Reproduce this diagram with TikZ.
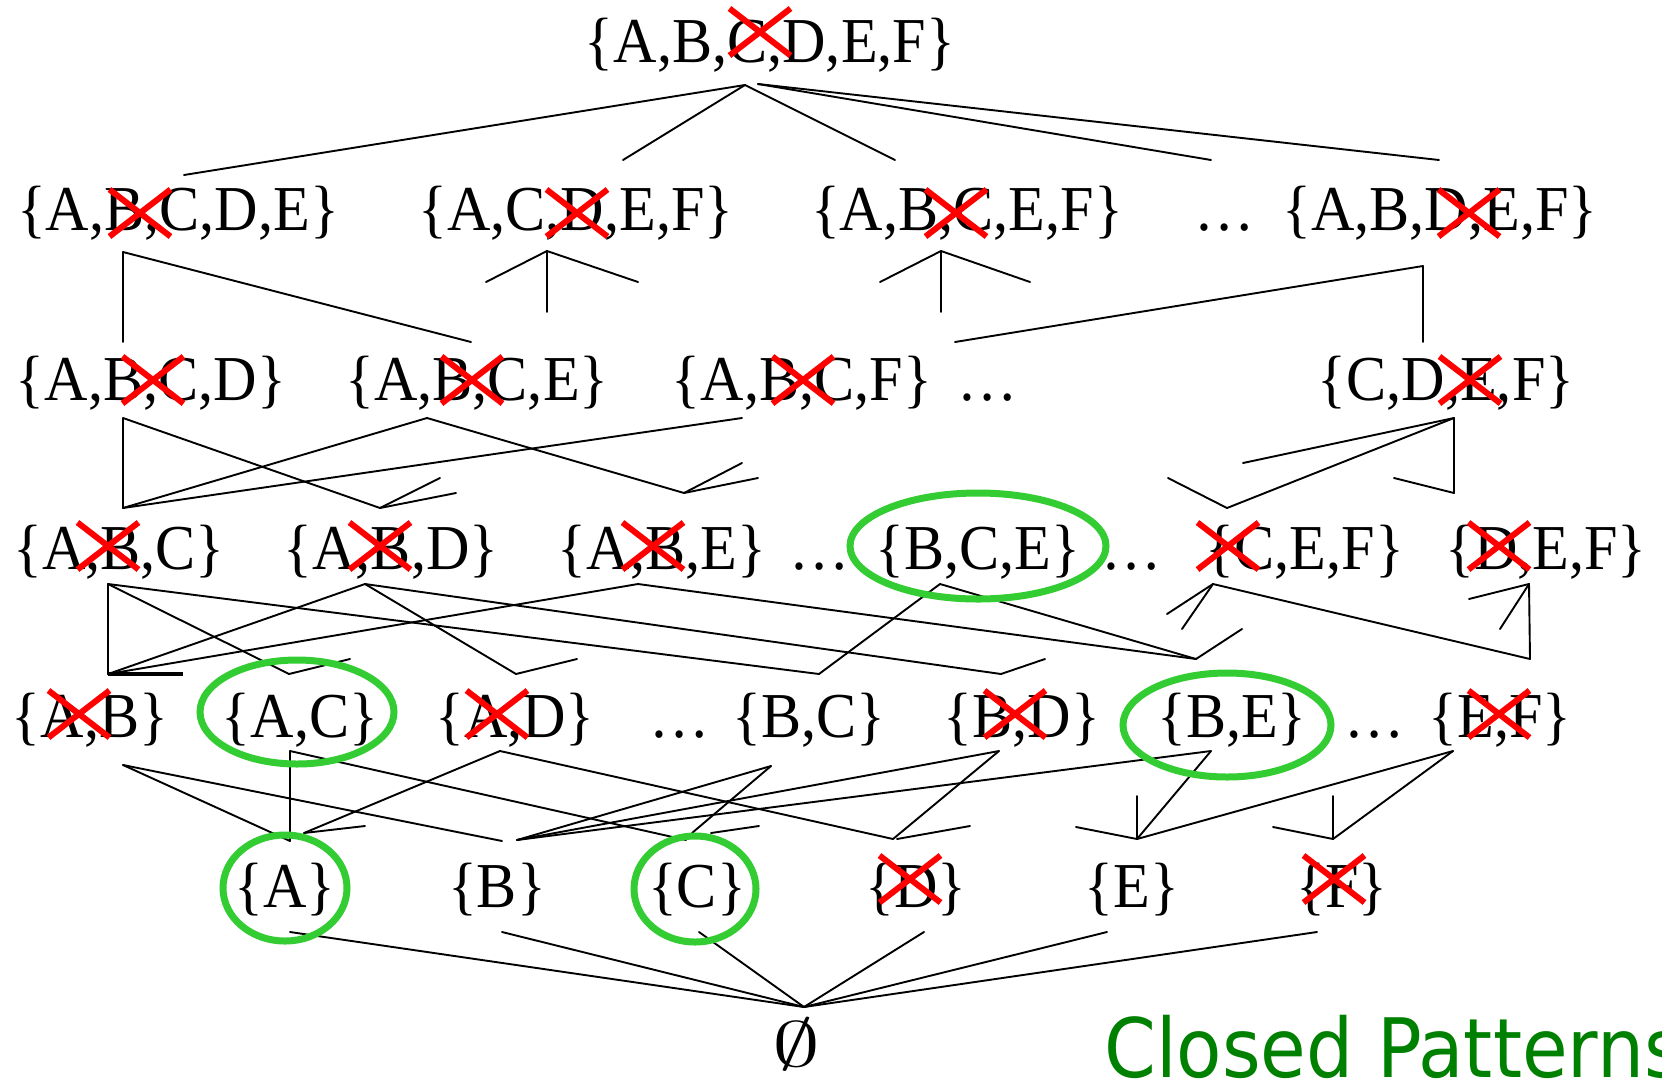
\documentclass[tikz,border=0pt]{standalone}
\usepackage{fix-cm}
\usepackage{fontspec}
\setmainfont[FakeStretch=0.94]{Liberation Serif}
\newfontfamily\cpfont[FakeStretch=0.905]{DejaVu Sans}
\usetikzlibrary{shapes.misc}
\definecolor{xred}{RGB}{255,0,0}
\definecolor{ringgreen}{RGB}{51,204,51}
\definecolor{titlegreen}{RGB}{0,128,0}
\begin{document}
\begin{tikzpicture}[x=1pt,y=-1pt,
  set/.style={font=\fontsize{64}{70}\selectfont, anchor=base, inner sep=0pt},
  edge/.style={line width=1.9pt, line cap=round},
  xo/.style={cross out, draw=xred, line width=6pt, minimum width=61pt, minimum height=47pt, inner sep=0pt, outer sep=0pt},
  ring/.style={draw=ringgreen, line width=7pt}]
\useasboundingbox (0,0) rectangle (1662,1080);
\fill[white] (0,0) rectangle (1662,1080);

% ---------- set nodes ----------
\node[set] (ABCDEF) at (770,62) {\{A,B,C,D,E,F\}};

\node[set] (ABCDE) at (178,230) {\{A,B,C,D,E\}};
\node[set] (ACDEF) at (576,230) {\{A,C,D,E,F\}};
\node[set] (ABCEF) at (967,230) {\{A,B,C,E,F\}};
\node[set] (dots2) at (1225,230) {…};
\node[set] (ABDEF) at (1440,230) {\{A,B,D,E,F\}};

\node[set] (ABCD) at (151,400) {\{A,B,C,D\}};
\node[set] (ABCE) at (477,400) {\{A,B,C,E\}};
\node[set] (ABCF) at (802,400) {\{A,B,C,F\}};
\node[set] (dots3) at (988,400) {…};
\node[set] (CDEF) at (1446,400) {\{C,D,E,F\}};

\node[set] (ABC) at (119,569) {\{A,B,C\}};
\node[set] (ABD) at (391,569) {\{A,B,D\}};
\node[set] (ABE) at (662,569) {\{A,B,E\}};
\node[set] (dots4a) at (820,569) {…};
\node[set] (BCE) at (978,569) {\{B,C,E\}};
\node[set] (dots4b) at (1132,569) {…};
\node[set] (CEF) at (1305,569) {\{C,E,F\}};
\node[set] (DEF) at (1546,569) {\{D,E,F\}};

\node[set] (AB) at (90,737) {\{A,B\}};
\node[set] (AC) at (300,737) {\{A,C\}};
\node[set] (AD) at (515,737) {\{A,D\}};
\node[set] (dots5a) at (680,737) {…};
\node[set] (BC) at (809,737) {\{B,C\}};
\node[set] (BD) at (1022,737) {\{B,D\}};
\node[set] (BE) at (1232,737) {\{B,E\}};
\node[set] (dots5b) at (1375,737) {…};
\node[set] (EF) at (1500,737) {\{E,F\}};

\node[set] (A) at (285,907) {\{A\}};
\node[set] (B) at (497,907) {\{B\}};
\node[set] (C) at (697,907) {\{C\}};
\node[set] (D) at (916,907) {\{D\}};
\node[set] (E) at (1132,907) {\{E\}};
\node[set] (F) at (1342,907) {\{F\}};

\node[set, xscale=1.5] (empty) at (796,1066) {$\emptyset$};

\node[anchor=base west, inner sep=0pt, text=titlegreen, font=\cpfont\fontsize{82}{90}\selectfont] (title) at (1104,1077) {Closed Patterns};

% ---------- attachment points ----------
\coordinate (t1) at (745,85);
\coordinate (t2) at (758,84);
\coordinate (ABCDE-t) at (184,175);
\coordinate (ACDEF-t) at (623,160);
\coordinate (ABCEF-t) at (895,160);
\coordinate (dots2-t) at (1211,160);
\coordinate (ABDEF-t) at (1439,160);

\coordinate (ABCDE-b) at (123,252);
\coordinate (ACDEF-b) at (547,251);
\coordinate (ABCEF-b) at (941,251);
\coordinate (ABDEF-b) at (1423,266);
\coordinate (ABDEF-c) at (1423,342);
\coordinate (ACDEF-s1) at (486,282);
\coordinate (ACDEF-s2) at (638,282);
\coordinate (ACDEF-s3) at (547,312);
\coordinate (ABCEF-s1) at (880,282);
\coordinate (ABCEF-s2) at (1030,282);
\coordinate (ABCEF-s3) at (941,312);

\coordinate (ABCD-t) at (123,342);
\coordinate (ABCE-t) at (471,342);
\coordinate (ABCF-t) at (955,342);

\coordinate (ABCD-b) at (123,418);
\coordinate (ABCE-b) at (427,418);
\coordinate (ABCF-b) at (742,418);
\coordinate (CDEF-b) at (1454,418);

\coordinate (ABC-t) at (123,508);
\coordinate (ABD-t) at (380,508);
\coordinate (ABE-t) at (684,493);
\coordinate (CEF-t) at (1227,508);
\coordinate (DEF-t) at (1454,493);
\coordinate (ABD-s1) at (440,478);
\coordinate (ABD-s2) at (456,493);
\coordinate (ABE-s1) at (742,463);
\coordinate (ABE-s2) at (758,478);
\coordinate (CDEF-s) at (1243,463);
\coordinate (CEF-s) at (1168,478);
\coordinate (DEF-s) at (1394,478);

\coordinate (ABC-b) at (108,584);
\coordinate (ABD-b) at (365,584);
\coordinate (ABE-b) at (638,584);
\coordinate (BCE-b) at (940,584);
\coordinate (CEF-b) at (1213,584);
\coordinate (DEF-b) at (1529,584);

\coordinate (AB-t) at (108,674);
\coordinate (AB-h) at (183,674);
\coordinate (AC-t) at (289,674);
\coordinate (AD-t) at (516,674);
\coordinate (BC-t) at (819,674);
\coordinate (BD-t) at (1001,674);
\coordinate (BE-t) at (1196,659);
\coordinate (EF-t) at (1530,659);
\coordinate (AC-s) at (350,659);
\coordinate (AD-s) at (577,659);
\coordinate (BD-s) at (1045,659);
\coordinate (BE-s) at (1242,629);
\coordinate (CEF-s1) at (1167,614);
\coordinate (CEF-s2) at (1182,629);
\coordinate (DEF-s1) at (1469,599);
\coordinate (DEF-s2) at (1500,629);

\coordinate (AB-b) at (123,765);
\coordinate (AC-b) at (290,751);
\coordinate (AD-b) at (500,751);
\coordinate (BC-b) at (771,766);
\coordinate (BD-b) at (999,751);
\coordinate (BE-b) at (1211,751);
\coordinate (EF-b) at (1453,751);

\coordinate (A-t) at (290,841);
\coordinate (A-t2) at (304,833);
\coordinate (A-s) at (365,826);
\coordinate (B-t) at (502,841);
\coordinate (B-t2) at (517,840);
\coordinate (C-t) at (686,840);
\coordinate (C-t2) at (692,833);
\coordinate (C-s1) at (711,833);
\coordinate (C-s2) at (759,826);
\coordinate (D-t) at (893,839);
\coordinate (D-s1) at (897,839);
\coordinate (D-s2) at (970,826);
\coordinate (E-t) at (1137,839);
\coordinate (E-s1) at (1137,796);
\coordinate (E-s2) at (1076,827);
\coordinate (F-t) at (1333,839);
\coordinate (F-s1) at (1333,796);
\coordinate (F-s2) at (1273,827);

\coordinate (A-b) at (290,932);
\coordinate (B-b) at (502,932);
\coordinate (C-b) at (699,932);
\coordinate (D-b) at (924,932);
\coordinate (E-b) at (1107,932);
\coordinate (F-b) at (1317,932);
\coordinate (empty-t) at (804,1007);

% ---------- connectors ----------
\draw[edge] (t1) -- (ABCDE-t);
\draw[edge] (t1) -- (ACDEF-t);
\draw[edge] (t1) -- (ABCEF-t);
\draw[edge] (t2) -- (dots2-t);
\draw[edge] (t2) -- (ABDEF-t);

\draw[edge] (ABCDE-b) -- (ABCD-t);
\draw[edge] (ABCDE-b) -- (ABCE-t);
\draw[edge] (ACDEF-b) -- (ACDEF-s1);
\draw[edge] (ACDEF-b) -- (ACDEF-s2);
\draw[edge] (ACDEF-b) -- (ACDEF-s3);
\draw[edge] (ABCEF-b) -- (ABCEF-s1);
\draw[edge] (ABCEF-b) -- (ABCEF-s2);
\draw[edge] (ABCEF-b) -- (ABCEF-s3);
\draw[edge] (ABDEF-b) -- (ABDEF-c);
\draw[edge] (ABDEF-b) -- (ABCF-t);

\draw[edge] (ABCD-b) -- (ABC-t);
\draw[edge] (ABCD-b) -- (ABD-t);
\draw[edge] (ABCE-b) -- (ABC-t);
\draw[edge] (ABCE-b) -- (ABE-t);
\draw[edge] (ABCF-b) -- (ABC-t);
\draw[edge] (ABD-t) -- (ABD-s1);
\draw[edge] (ABD-t) -- (ABD-s2);
\draw[edge] (ABE-t) -- (ABE-s1);
\draw[edge] (ABE-t) -- (ABE-s2);
\draw[edge] (CDEF-b) -- (CDEF-s);
\draw[edge] (CDEF-b) -- (CEF-t);
\draw[edge] (CDEF-b) -- (DEF-t);
\draw[edge] (DEF-t) -- (DEF-s);
\draw[edge] (CEF-t) -- (CEF-s);

\draw[edge] (ABC-b) -- (AB-t);
\draw[line width=3.2pt] (AB-t) -- (AB-h);
\draw[edge] (ABC-b) -- (AC-t);
\draw[edge] (ABC-b) -- (BC-t);
\draw[edge] (ABD-b) -- (AB-t);
\draw[edge] (ABD-b) -- (AD-t);
\draw[edge] (ABD-b) -- (BD-t);
\draw[edge] (ABE-b) -- (AB-t);
\draw[edge] (ABE-b) -- (BE-t);
\draw[edge] (BCE-b) -- (BC-t);
\draw[edge] (BCE-b) -- (BE-t);
\draw[edge] (AC-t) -- (AC-s);
\draw[edge] (AD-t) -- (AD-s);
\draw[edge] (BD-t) -- (BD-s);
\draw[edge] (BE-t) -- (BE-s);
\draw[edge] (CEF-b) -- (CEF-s1);
\draw[edge] (CEF-b) -- (CEF-s2);
\draw[edge] (CEF-b) -- (EF-t);
\draw[edge] (DEF-b) -- (DEF-s1);
\draw[edge] (DEF-b) -- (DEF-s2);
\draw[edge] (DEF-b) -- (EF-t);

\draw[edge] (AB-b) -- (A-t);
\draw[edge] (AB-b) -- (B-t);
\draw[edge] (AC-b) -- (A-t);
\draw[edge] (AC-b) -- (C-t);
\draw[edge] (AD-b) -- (A-t2);
\draw[edge] (A-t2) -- (A-s);
\draw[edge] (AD-b) -- (D-t);
\draw[edge] (BC-b) -- (B-t2);
\draw[edge] (BC-b) -- (C-t2);
\draw[edge] (C-s1) -- (C-s2);
\draw[edge] (BD-b) -- (B-t2);
\draw[edge] (BD-b) -- (D-t);
\draw[edge] (D-s1) -- (D-s2);
\draw[edge] (BE-b) -- (B-t2);
\draw[edge] (BE-b) -- (E-t);
\draw[edge] (EF-b) -- (E-t);
\draw[edge] (EF-b) -- (F-t);
\draw[edge] (E-s1) -- (E-t);
\draw[edge] (E-s2) -- (E-t);
\draw[edge] (F-s1) -- (F-t);
\draw[edge] (F-s2) -- (F-t);

\foreach \p in {A,B,C,D,E,F} \draw[edge] (\p-b) -- (empty-t);

% ---------- closed-pattern rings ----------
\draw[ring] (978,546) ellipse [x radius=128pt, y radius=53pt];
\draw[ring] (297,712) ellipse [x radius=97pt, y radius=52pt];
\draw[ring] (1227,725) ellipse [x radius=104pt, y radius=52pt];
\draw[ring] (285,888) ellipse [x radius=62pt, y radius=53pt];
\draw[ring] (695,889) ellipse [x radius=61pt, y radius=53pt];

% ---------- crossed-out items ----------
\node[xo] (x1) at (760,32) {};
\node[xo] (x2a) at (140,213) {};
\node[xo] (x2b) at (577,213) {};
\node[xo] (x2c) at (956,213) {};
\node[xo] (x2d) at (1469,213) {};
\node[xo] (x3a) at (153,380) {};
\node[xo] (x3b) at (472,380) {};
\node[xo] (x3c) at (803,380) {};
\node[xo] (x3d) at (1470,380) {};
\node[xo] (x4a) at (108,546) {};
\node[xo] (x4b) at (380,546) {};
\node[xo] (x4c) at (653,546) {};
\node[xo] (x4d) at (1228,546) {};
\node[xo] (x4e) at (1499,546) {};
\node[xo] (x5a) at (79,714) {};
\node[xo] (x5b) at (497,714) {};
\node[xo] (x5c) at (1015,714) {};
\node[xo] (x5d) at (1499,714) {};
\node[xo] (x6a) at (910,879) {};
\node[xo] (x6b) at (1334,879) {};
\end{tikzpicture}
\end{document}
